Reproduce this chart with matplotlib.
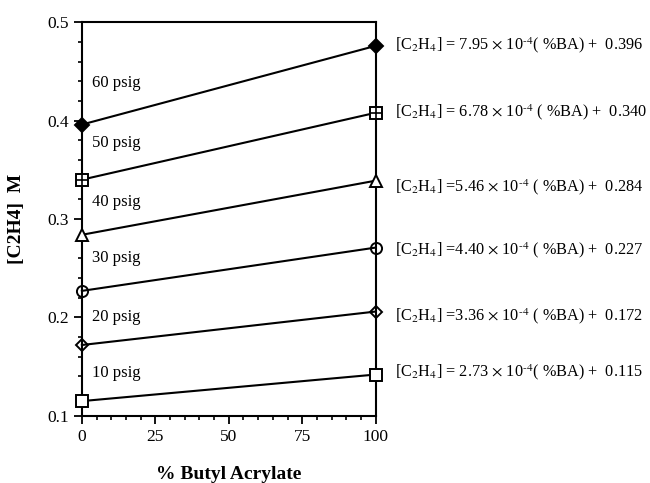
import matplotlib
matplotlib.use("Agg")
import matplotlib.pyplot as plt
from matplotlib.ticker import MultipleLocator

# data
butyl_acrylate = [0, 100]
pressures = ["60 psig", "50 psig", "40 psig", "30 psig", "20 psig", "10 psig"]
c2h4_at_0 = [0.396, 0.340, 0.284, 0.227, 0.172, 0.115]
c2h4_at_100 = [0.476, 0.408, 0.339, 0.271, 0.206, 0.142]
slopes = ["7.95", "6.78", "5.46", "4.40", "3.36", "2.73"]
intercepts = ["0.396", "0.340", "0.284", "0.227", "0.172", "0.115"]
eq_gaps = [" = ", " = ", " =", " =", " =", " = "]
eq_after = ["", " ", " ", " ", " ", ""]

label_y = [0.438, 0.377, 0.317, 0.260, 0.200, 0.144]
eq_y = [0.477, 0.409, 0.332, 0.268, 0.2015, 0.144]

plt.rcParams["font.family"] = ["Liberation Serif", "DejaVu Serif"]
plt.rcParams["mathtext.fontset"] = "stix"

fig = plt.figure(figsize=(6.5, 4.83), dpi=100)
ax = fig.add_axes([0.126, 0.139, 0.452, 0.815])

styles = [
    dict(marker="D", mfc="black", ms=7),
    dict(marker="s", mfc="white", ms=8),
    dict(marker="^", mfc="white", ms=8),
    dict(marker="o", mfc="none", ms=8),
    dict(marker="D", mfc="none", ms=6),
    dict(marker="s", mfc="white", ms=8),
]

for i in range(len(pressures)):
    ys = [c2h4_at_0[i], c2h4_at_100[i]]
    st = styles[i]
    ax.plot(butyl_acrylate, ys, color="black", lw=1.5, marker=st["marker"],
            mfc=st["mfc"], mec="black", mew=1.4, ms=st["ms"], clip_on=False, zorder=3)
    if i == 1:
        # boxed plus
        ax.plot(butyl_acrylate, ys, ls="none", marker="+", color="black",
                ms=8, mew=1.2, clip_on=False, zorder=4)
    ax.text(3.4, label_y[i], pressures[i], fontsize=12, va="center", ha="left")
    eq = (r"[C$_2$H$_4$]" + eq_gaps[i] + slopes[i] + r" $\times$ 10$^{\text{-}4}$" + eq_after[i]
          + "( %BA) +  " + intercepts[i])
    ax.text(106.5, eq_y[i], eq, fontsize=11.7, va="center", ha="left", clip_on=False)

ax.set_xlim(0, 100)
ax.set_ylim(0.1, 0.5)
ax.xaxis.set_major_locator(MultipleLocator(25))
ax.xaxis.set_minor_locator(MultipleLocator(5))
ax.yaxis.set_major_locator(MultipleLocator(0.1))
ax.yaxis.set_minor_locator(MultipleLocator(0.02))
ax.set_yticklabels([f"{v:.1f}" for v in ax.get_yticks()])
ax.tick_params(which="major", direction="out", length=6, width=1.3, labelsize=12.5)
ax.tick_params(which="minor", direction="out", length=3, width=1.2)
for s in ax.spines.values():
    s.set_linewidth(1.5)

ax.set_xlabel("% Butyl Acrylate", fontsize=14, fontweight="bold", labelpad=15)
ax.set_ylabel("[C2H4]  M", fontsize=14, fontweight="bold", labelpad=16)

fig.savefig("out.png", dpi=100)
